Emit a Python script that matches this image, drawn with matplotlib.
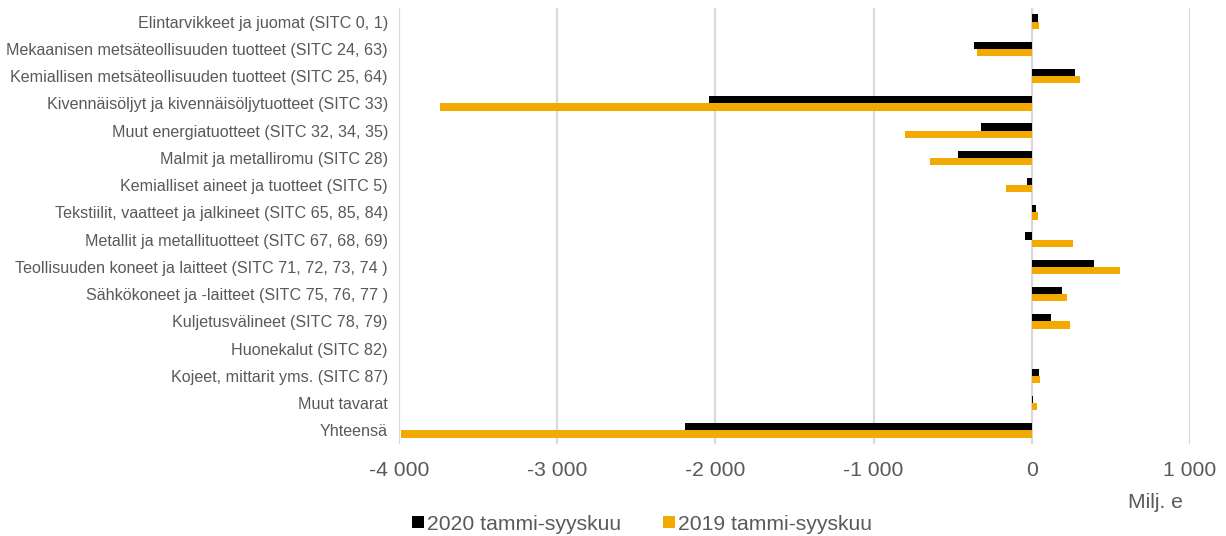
import matplotlib.pyplot as plt
import numpy as np

plt.rcParams["font.family"] = ["Liberation Sans", "DejaVu Sans"]

categories = [
    "Elintarvikkeet ja juomat (SITC 0, 1)",
    "Mekaanisen metsäteollisuuden tuotteet (SITC 24, 63)",
    "Kemiallisen metsäteollisuuden tuotteet (SITC 25, 64)",
    "Kivennäisöljyt ja kivennäisöljytuotteet (SITC 33)",
    "Muut energiatuotteet (SITC 32, 34, 35)",
    "Malmit ja metalliromu (SITC 28)",
    "Kemialliset aineet ja tuotteet (SITC 5)",
    "Tekstiilit, vaatteet ja jalkineet (SITC 65, 85, 84)",
    "Metallit ja metallituotteet (SITC 67, 68, 69)",
    "Teollisuuden koneet ja laitteet (SITC 71, 72, 73, 74 )",
    "Sähkökoneet ja -laitteet (SITC 75, 76, 77 )",
    "Kuljetusvälineet (SITC 78, 79)",
    "Huonekalut (SITC 82)",
    "Kojeet, mittarit yms. (SITC 87)",
    "Muut tavarat",
    "Yhteensä",
]
values_2020 = [40, -365, 274, -2040, -321, -464, -28, 27, -46, 396, 189, 119, 0, 48, 5, -2195]
values_2019 = [44, -346, 306, -3740, -800, -646, -164, 38, 258, 560, 220, 239, 0, 52, 31, -3985]
xticks = [-4000, -3000, -2000, -1000, 0, 1000]

fig = plt.figure(figsize=(12.26, 5.36), dpi=100)
ax = fig.add_axes([399 / 1226, 1 - 444 / 536, (1190 - 399) / 1226, (444 - 8) / 536])

y = np.arange(len(categories))
h = 0.27
ax.barh(y - h / 2, values_2020, height=h, color="#000000", label="2020 tammi-syyskuu", zorder=3)
ax.barh(y + h / 2, values_2019, height=h, color="#f2a900", label="2019 tammi-syyskuu", zorder=3)

ax.set_ylim(len(categories) - 0.5, -0.5)
ax.set_xlim(-4000, 1000)
ax.set_xticks(xticks)
ax.set_xticklabels([f"{t:,}".replace(",", " ") for t in xticks], fontsize=15.2, color="#595959")
ax.set_yticks(y)
ax.set_yticklabels(categories, fontsize=11.6, color="#595959")
ax.tick_params(length=0)
ax.tick_params(axis="x", pad=12)
ax.tick_params(axis="y", pad=8)
ax.grid(axis="x", color="#d9d9d9", linewidth=1.6, zorder=0)
for s in ax.spines.values():
    s.set_visible(False)

fig.text(1155 / 1226, 1 - 503 / 536, "Milj. e", fontsize=15.2, color="#595959",
         ha="center", va="center")
fig.legend(loc="center", bbox_to_anchor=(642 / 1226, 1 - 524 / 536), ncol=2, frameon=False,
           fontsize=15.2, handlelength=0.55, handleheight=0.55, handletextpad=0.15,
           columnspacing=2.0, labelcolor="#595959", borderpad=0)

fig.savefig("out.png", dpi=100)
